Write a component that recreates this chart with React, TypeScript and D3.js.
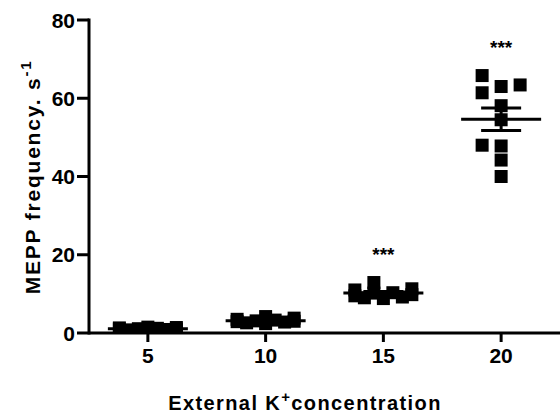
import React from "react";
import * as d3 from "d3";

const categories = ["5", "10", "15", "20"];
const values5 = [0.7, 0.9, 1.0, 1.1, 1.2, 1.3, 1.4, 1.5, 0.8, 1.0];
const values10 = [2.4, 2.6, 2.9, 3.1, 3.3, 3.5, 3.0, 3.8, 4.2, 2.8];
const values15 = [12.9, 11.3, 11.0, 10.3, 10.2, 9.8, 9.5, 9.0, 8.8, 9.2];
const values20 = [65.8, 61.4, 63.0, 63.4, 58.1, 54.5, 48.0, 47.8, 44.2, 40.0];
const groups = [values5, values10, values15, values20];
const significance = ["", "", "***", "***"];
const yTicks = [0, 20, 40, 60, 80];

const W = 560;
const H = 415;
const left = 89;
const top = 20;
const bottom = 333;
const SQ = 13;
const STEP = 9.5;
const GAPX = 18;
const FONT = "'Liberation Sans', Arial, sans-serif";

function swarm(vals: number[], y: (v: number) => number) {
  const order = vals.map((v, i) => i).sort((a, b) => vals[a] - vals[b]);
  const placed: { dx: number; py: number }[] = [];
  const offs = new Array(vals.length).fill(0);
  const cand = [0, -1, 1, -2, 2, -3, 3].map((k) => k * STEP);
  order.forEach((i) => {
    const py = y(vals[i]);
    let best = 0;
    let bestScore = Infinity;
    for (const dx of cand) {
      let score = 0;
      for (const p of placed) {
        const ox = GAPX - Math.abs(p.dx - dx);
        const oy = SQ - Math.abs(p.py - py);
        if (ox > 0 && oy > 0) score += ox * oy;
      }
      if (score === 0) {
        best = dx;
        bestScore = 0;
        break;
      }
      if (score < bestScore) {
        bestScore = score;
        best = dx;
      }
    }
    offs[i] = best;
    placed.push({ dx: best, py });
  });
  return offs;
}

export default function App() {
  const x = d3.scalePoint<string>().domain(categories).range([left, W]).padding(0.5);
  const y = d3.scaleLinear().domain([0, 80]).range([bottom, top]);

  return (
    <svg width={W} height={H} style={{ position: "absolute", left: 0, top: 0, background: "#fff" }}>
      <defs>
        <clipPath id="plot">
          <rect x={left} y={0} width={W - left} height={bottom - 1} />
        </clipPath>
      </defs>
      <g clipPath="url(#plot)">
        {groups.map((vals, gi) => {
          const cx = x(categories[gi])!;
          const offs = swarm(vals, y);
          const mean = d3.mean(vals)!;
          const sem = d3.deviation(vals)! / Math.sqrt(vals.length);
          return (
            <g key={gi}>
              {vals.map((v, i) => (
                <rect
                  key={i}
                  x={cx + offs[i] - SQ / 2}
                  y={y(v) - SQ / 2}
                  width={SQ}
                  height={SQ}
                  fill="#000"
                />
              ))}
              <line x1={cx - 40} x2={cx + 40} y1={y(mean)} y2={y(mean)} stroke="#000" strokeWidth={3} />
              <line x1={cx} x2={cx} y1={y(mean - sem)} y2={y(mean + sem)} stroke="#000" strokeWidth={3} />
              <line x1={cx - 20} x2={cx + 20} y1={y(mean + sem)} y2={y(mean + sem)} stroke="#000" strokeWidth={3} />
              <line x1={cx - 20} x2={cx + 20} y1={y(mean - sem)} y2={y(mean - sem)} stroke="#000" strokeWidth={3} />
            </g>
          );
        })}
      </g>
      {groups.map((vals, gi) =>
        significance[gi] ? (
          <text
            key={"s" + gi}
            x={x(categories[gi])!}
            y={y(d3.max(vals)!) - 22}
            textAnchor="middle"
            fontFamily={FONT}
            fontWeight="bold"
            fontSize={19}
          >
            {significance[gi]}
          </text>
        ) : null
      )}
      {/* y axis */}
      <line x1={left} x2={left} y1={top - 1.5} y2={bottom + 1.5} stroke="#000" strokeWidth={3} />
      {yTicks.map((t) => (
        <g key={t}>
          <line x1={left - 12} x2={left} y1={y(t)} y2={y(t)} stroke="#000" strokeWidth={3} />
          <text
            x={left - 14}
            y={y(t)}
            dy="0.36em"
            textAnchor="end"
            fontFamily={FONT}
            fontWeight="bold"
            fontSize={21}
          >
            {t}
          </text>
        </g>
      ))}
      {/* x axis */}
      <line x1={left} x2={W} y1={bottom} y2={bottom} stroke="#000" strokeWidth={3} />
      {categories.map((c) => (
        <g key={c}>
          <line x1={x(c)!} x2={x(c)!} y1={bottom} y2={bottom + 9} stroke="#000" strokeWidth={3} />
          <text
            x={x(c)!}
            y={363}
            textAnchor="middle"
            fontFamily={FONT}
            fontWeight="bold"
            fontSize={21}
          >
            {c}
          </text>
        </g>
      ))}
      <text
        x={305}
        y={410}
        textAnchor="middle"
        fontFamily={FONT}
        fontWeight="bold"
        fontSize={20}
        letterSpacing={1.4}
      >
        External K<tspan dy={-8} fontSize={15}>+</tspan>
        <tspan dy={8}>concentration</tspan>
      </text>
      <text
        transform="translate(40,177) rotate(-90)"
        textAnchor="middle"
        fontFamily={FONT}
        fontWeight="bold"
        fontSize={21}
        letterSpacing={1.8}
      >
        MEPP frequency. s<tspan dy={-9} fontSize={15}>-1</tspan>
      </text>
    </svg>
  );
}
